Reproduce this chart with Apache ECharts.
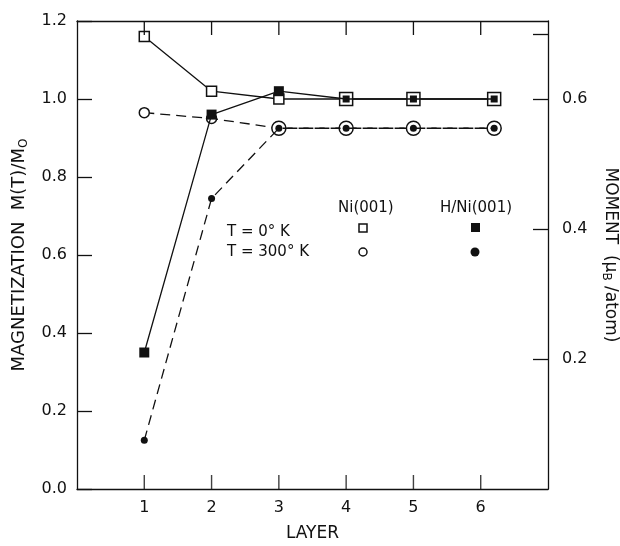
<!DOCTYPE html>
<html lang="en">
  <head>
    <meta charset="UTF-8" />
    <title>Magnetization vs layer</title>
    <script src="https://cdn.jsdelivr.net/npm/echarts@6/dist/echarts.min.js"></script>
    <style>
      html, body { margin: 0; padding: 0; background: #fff; }
      #main { width: 620px; height: 546px; }
    </style>
  </head>
  <body>
    <div id="main"></div>
  </body>
  <script>
    // layer positions (last point sits a bit past layer 6 in the original)
    const layers = [1, 2, 3, 4, 5, 6.2];
    // Ni(001), T = 0 K  (open squares, solid)
    const niT0 = [1.16, 1.02, 1.0, 1.0, 1.0, 1.0];
    // H/Ni(001), T = 0 K  (filled squares, solid)
    const hniT0 = [0.35, 0.96, 1.02, 1.0, 1.0, 1.0];
    // Ni(001), T = 300 K  (open circles, dashed)
    const niT300 = [0.965, 0.95, 0.925, 0.925, 0.925, 0.925];
    // H/Ni(001), T = 300 K  (filled circles, dashed)
    const hniT300 = [0.125, 0.745, 0.925, 0.925, 0.925, 0.925];

    const layerLabels = [1, 2, 3, 4, 5, 6];
    const magMin = 0;
    const magMax = 1.2;
    const momentTicks = [0.2, 0.4, 0.6, 0.7];
    const momentLabels = [0.2, 0.4, 0.6];

    const font = "DejaVu Sans";
    const ink = "#111";

    function pairs(values) {
      return values.map(function (v, i) {
        return [layers[i], v];
      });
    }

    var chartDom = document.getElementById("main");
    var myChart = echarts.init(chartDom);
    var option;

    function frame() {
      return { show: true, onZero: false, lineStyle: { color: ink, width: 1.3 } };
    }
    function ticks(len) {
      return { show: true, inside: true, length: len, lineStyle: { color: ink, width: 1.3 } };
    }
    // bottom x ticks, pointing inward
    function layerTickSeries(yVal, dy) {
      return {
        type: "scatter",
        silent: true,
        clip: false,
        data: layerLabels.map(function (l) {
          return [l, yVal];
        }),
        symbol: "rect",
        symbolSize: [1.4, 14],
        symbolOffset: [0, dy],
        itemStyle: { color: ink },
        z: 5,
      };
    }

    // key drawn as a small table inside the plot
    var keyGraphic = [
      { type: "text", left: 338, top: 201, style: { text: "Ni(001)", fontFamily: font, fontSize: 15, fill: ink } },
      { type: "text", left: 440, top: 201, style: { text: "H/Ni(001)", fontFamily: font, fontSize: 15, fill: ink } },
      { type: "text", left: 227, top: 225, style: { text: "T = 0\u00b0 K", fontFamily: font, fontSize: 15, fill: ink } },
      { type: "text", left: 227, top: 245, style: { text: "T = 300\u00b0 K", fontFamily: font, fontSize: 15, fill: ink } },
      { type: "rect", shape: { x: 359, y: 224, width: 8, height: 8 }, style: { fill: "#fff", stroke: ink, lineWidth: 1.5 } },
      { type: "rect", shape: { x: 471, y: 223, width: 9, height: 9 }, style: { fill: ink } },
      { type: "circle", shape: { cx: 363, cy: 252, r: 4 }, style: { fill: "#fff", stroke: ink, lineWidth: 1.5 } },
      { type: "circle", shape: { cx: 475, cy: 252, r: 4.5 }, style: { fill: ink } },
    ];

    option = {
      backgroundColor: "#fff",
      animation: false,
      grid: { left: 77, right: 72, top: 21, bottom: 57, outerBoundsMode: "none", containLabel: false },
      xAxis: [
        {
          type: "value",
          min: 0,
          max: 7,
          name: "LAYER",
          nameLocation: "middle",
          nameGap: 36,
          nameTextStyle: { fontFamily: font, fontSize: 17, color: ink },
          axisLine: frame(),
          axisTick: { show: false },
          axisLabel: {
            customValues: layerLabels,
            margin: 11,
            fontFamily: font,
            fontSize: 16,
            color: ink,
          },
          splitLine: { show: false },
        },
        {
          type: "value",
          position: "top",
          min: 0,
          max: 7,
          axisLine: frame(),
          axisTick: { show: false },
          axisLabel: { show: false },
          splitLine: { show: false },
        },
      ],
      yAxis: [
        {
          type: "value",
          min: magMin,
          max: magMax,
          interval: 0.2,
          name: "MAGNETIZATION  M(T)/M{sub|O}",
          nameLocation: "middle",
          nameGap: 47,
          nameTextStyle: {
            fontFamily: font,
            fontSize: 18,
            color: ink,
            rich: { sub: { fontFamily: font, fontSize: 12, color: ink, padding: [9, 0, 0, 0] } },
          },
          axisLine: frame(),
          axisTick: ticks(15),
          axisLabel: {
            margin: 10,
            fontFamily: font,
            fontSize: 16,
            color: ink,
            formatter: function (v) {
              return v.toFixed(1);
            },
          },
          splitLine: { show: false },
        },
        {
          type: "value",
          position: "right",
          min: 0,
          max: 0.72,
          name: "MOMENT  (\u03bc{sub|B} /atom)",
          nameLocation: "middle",
          nameRotate: -90,
          nameGap: 52,
          nameTextStyle: {
            fontFamily: font,
            fontSize: 17,
            color: ink,
            rich: { sub: { fontFamily: font, fontSize: 12, color: ink, padding: [9, 0, 0, 0] } },
          },
          axisLine: frame(),
          axisTick: Object.assign(ticks(15), { customValues: momentTicks }),
          axisLabel: {
            customValues: momentLabels,
            margin: 14,
            fontFamily: font,
            fontSize: 16,
            color: ink,
            formatter: function (v) {
              return v.toFixed(1);
            },
          },
          splitLine: { show: false },
        },
      ],
      series: [
        {
          name: "Ni(001) T=0K",
          type: "line",
          data: pairs(niT0),
          symbol: "rect",
          symbolSize: function (v, p) {
            return p.dataIndex >= 3 ? 13 : 10;
          },
          lineStyle: { color: ink, width: 1.3 },
          itemStyle: { color: "#fff", borderColor: ink, borderWidth: 1.5 },
          z: 2,
        },
        {
          name: "H/Ni(001) T=0K",
          type: "line",
          data: pairs(hniT0),
          symbol: "rect",
          symbolSize: function (v, p) {
            return p.dataIndex >= 3 ? 7 : 10;
          },
          lineStyle: { color: ink, width: 1.3 },
          itemStyle: { color: ink, borderColor: ink, borderWidth: 0 },
          z: 3,
        },
        {
          name: "Ni(001) T=300K",
          type: "line",
          data: pairs(niT300),
          symbol: "circle",
          symbolSize: function (v, p) {
            return p.dataIndex >= 2 ? 14 : 10;
          },
          lineStyle: { color: ink, width: 1.3, type: [10, 6] },
          itemStyle: { color: "#fff", borderColor: ink, borderWidth: 1.5 },
          z: 2,
        },
        {
          name: "H/Ni(001) T=300K",
          type: "line",
          data: pairs(hniT300),
          symbol: "circle",
          symbolSize: 7,
          lineStyle: { color: ink, width: 1.3, type: [10, 6] },
          itemStyle: { color: ink, borderColor: ink, borderWidth: 0 },
          z: 3,
        },
        layerTickSeries(magMin, -7),
      ],
      graphic: keyGraphic,
    };
    option && myChart.setOption(option);

    // top x ticks: placed through the chart's own scale, pointing down
    var topTicks = layerLabels.map(function (l) {
      var p = myChart.convertToPixel({ gridIndex: 0 }, [l, magMax]);
      return {
        type: "line",
        silent: true,
        z: 10,
        shape: { x1: p[0], y1: p[1], x2: p[0], y2: p[1] + 14 },
        style: { stroke: ink, lineWidth: 1.3 },
      };
    });
    myChart.setOption({ graphic: keyGraphic.concat(topTicks) });
  </script>
</html>
